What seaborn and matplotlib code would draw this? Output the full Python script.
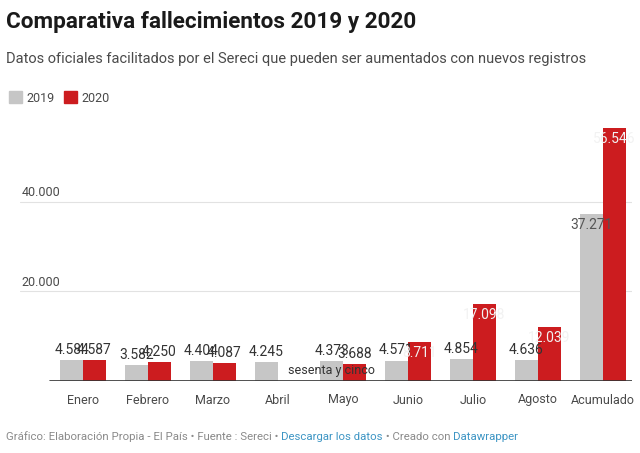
import pandas as pd
import matplotlib
matplotlib.use("Agg")
import matplotlib.pyplot as plt
import seaborn as sns
from matplotlib.patches import Patch
from matplotlib.transforms import blended_transform_factory

# Datos
meses = ["Enero", "Febrero", "Marzo", "Abril", "Mayo", "Junio", "Julio", "Agosto", "Acumulado"]
fallecidos_2019 = [4584, 3582, 4404, 4245, 4373, 4571, 4854, 4636, 37271]
fallecidos_2020 = [4587, 4250, 4087, 65, 3688, 8711, 17098, 12039, 56546]
etiquetas_2019 = ["4.584", "3.582", "4.404", "4.245", "4.373", "4.571", "4.854", "4.636", "37.271"]
etiquetas_2020 = ["4.587", "4.250", "4.087", "sesenta y cinco", "3.688", "8.711", "17.098", "12.039", "56.546"]
y_ticks = [20000, 40000]
y_tick_labels = ["20.000", "40.000"]

GRIS = "#c6c6c6"
ROJO = "#cc1c1f"
TEXTO = "#4a4a4a"

df = pd.DataFrame({
    "Mes": meses * 2,
    "Año": ["2019"] * len(meses) + ["2020"] * len(meses),
    "Fallecidos": fallecidos_2019 + fallecidos_2020,
})

sns.set_theme(style="white")
plt.rcParams["font.family"] = ["Roboto", "DejaVu Sans"]

fig = plt.figure(figsize=(6.4, 4.53), dpi=100)
ax = fig.add_axes([20 / 640, 72 / 453, 612 / 640, 261 / 453])

sns.barplot(data=df, x="Mes", y="Fallecidos", hue="Año", palette=[GRIS, ROJO],
            width=0.7, gap=0, saturation=1, edgecolor="none", linewidth=0, ax=ax, legend=False)

ax.set_xlim(-0.97, 8.45)
ax.set_ylim(0, 58300)
for s in ax.spines.values():
    s.set_visible(False)
ax.set_xlabel("")
ax.set_ylabel("")
ax.set_yticks([])
ax.tick_params(axis="x", length=0, pad=9, labelsize=9, labelcolor=TEXTO)

# gridlines y etiquetas del eje y
tr = blended_transform_factory(ax.transAxes, ax.transData)
for v, lab in zip(y_ticks, y_tick_labels):
    ax.axhline(v, color="#e2e2e2", lw=0.8, zorder=0)
    ax.text(0.003, v + 600, lab, transform=tr, fontsize=9, color=TEXTO, va="bottom", ha="left")
ax.axhline(0, xmin=0.049, xmax=1, color="#333333", lw=1.2, zorder=3)

# etiquetas de valores
for cont, etiquetas, anio in zip(ax.containers, [etiquetas_2019, etiquetas_2020], ["2019", "2020"]):
    for bar, lab in zip(cont, etiquetas):
        h = bar.get_height()
        cx = bar.get_x() + bar.get_width() / 2
        if lab == "sesenta y cinco":
            ax.text(cx - 0.02, 2300, lab, ha="left", va="center", fontsize=9, color="#333333", zorder=5)
        elif h > 8000:
            col = "#f2f2f2" if anio == "2020" else "#555555"
            ax.text(cx, h - 900, lab, ha="center", va="top", fontsize=10, color=col, zorder=5)
        else:
            ax.text(cx, h + 700, lab, ha="center", va="bottom", fontsize=10, color="#333333", zorder=5)

# títulos
fig.text(6 / 640, 1 - 22 / 453, "Comparativa fallecimientos 2019 y 2020", fontsize=16.2,
         fontweight="bold", color="#1a1a1a", va="center", ha="left")
fig.text(6 / 640, 1 - 59 / 453, "Datos oficiales facilitados por el Sereci que pueden ser aumentados con nuevos registros",
         fontsize=10.5, color=TEXTO, va="center", ha="left")

# leyenda
handles = [Patch(color=GRIS, label="2019"), Patch(color=ROJO, label="2020")]
fig.legend(handles=handles, loc="center left", bbox_to_anchor=(-2 / 640, 1 - 98 / 453), ncol=2,
           frameon=False, fontsize=9, handlelength=1.0, handleheight=1.1, handletextpad=0.35,
           columnspacing=0.8, labelcolor=TEXTO)

# pie
partes = [
    ("Gráfico: Elaboración Propia - El País • Fuente : Sereci • ", "#8a8a8a"),
    ("Descargar los datos", "#3d95c4"),
    (" • Creado con ", "#8a8a8a"),
    ("Datawrapper", "#3d95c4"),
]
fig.canvas.draw()
renderer = fig.canvas.get_renderer()
x = 6
for txt, col in partes:
    t = fig.text(x / 640, 1 - 437 / 453, txt, fontsize=8.2, color=col, va="center", ha="left")
    bb = t.get_window_extent(renderer=renderer)
    x += bb.width

fig.savefig("out.png", dpi=100)
